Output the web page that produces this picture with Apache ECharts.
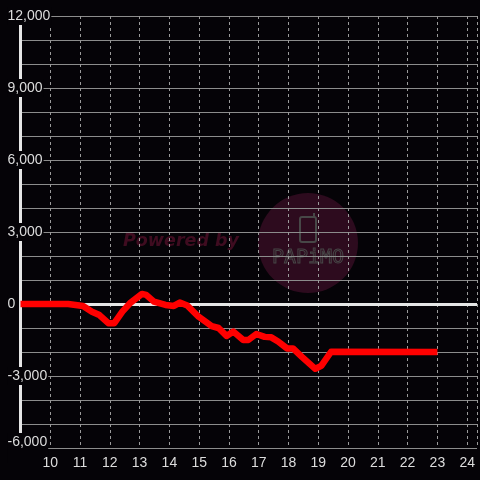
<!DOCTYPE html>
<html>
<head>
<meta charset="utf-8">
<script src="https://cdn.jsdelivr.net/npm/echarts@6/dist/echarts.min.js"></script>
<style>
  html, body { margin: 0; padding: 0; background: #050307; }
  #chart { width: 480px; height: 480px; }
</style>
</head>
<body>
<div id="chart"></div>
<script>
// 数据
const xValues = [9, 10.6, 11.1, 11.4, 11.65, 11.95, 12.15, 12.42, 12.7, 13.08, 13.22, 13.48, 13.87, 14.15, 14.35, 14.6, 14.98, 15.42, 15.65, 15.92, 16.15, 16.48, 16.65, 16.92, 17.2, 17.42, 17.65, 17.95, 18.15, 18.45, 18.9, 19.1, 19.43, 23];
const yValues = [0, 0, -80, -320, -460, -800, -800, -320, 60, 420, 380, 100, -40, -80, 60, -60, -530, -920, -1000, -1330, -1150, -1500, -1500, -1250, -1370, -1390, -1560, -1850, -1850, -2200, -2700, -2580, -1990, -2000];
const yTickLabels = [-6000, -3000, 0, 3000, 6000, 9000, 12000];

const bg = '#050307';
const chart = echarts.init(document.getElementById('chart'));

const option = {
  backgroundColor: bg,
  animation: false,
  grid: { left: 20.5, right: 0, top: 16, bottom: 32 },
  // 水印
  graphic: [
    { type: 'circle', z: -10, shape: { cx: 308, cy: 243, r: 50 }, style: { fill: '#2d0b1e' } },
    { type: 'text', z: -10, x: 123, y: 241, style: {
      text: 'Powered by', fill: '#3f0c20', fontSize: 17.5, fontWeight: 'bold', fontStyle: 'italic',
      fontFamily: 'DejaVu Sans', verticalAlign: 'middle' } },
    { type: 'rect', z: -9, shape: { x: 300, y: 217, width: 16, height: 25, r: 2 },
      style: { fill: 'none', stroke: '#474747', lineWidth: 2 } },
    { type: 'rect', z: -9, shape: { x: 313, y: 213, width: 2, height: 5 },
      style: { fill: '#474747' } },
    { type: 'text', z: -9, x: 308, y: 258, style: {
      text: 'PAPiMO', fill: 'none', stroke: '#474747', lineWidth: 1, fontSize: 20,
      fontFamily: 'DejaVu Sans Mono', align: 'center', verticalAlign: 'middle' } }
  ],
  xAxis: {
    type: 'value',
    min: 9,
    max: 24.33,
    interval: 1,
    axisLine: { show: false },
    axisTick: { show: false },
    axisLabel: {
      color: '#dddddd', fontSize: 14, fontFamily: 'Liberation Sans', margin: 8,
      formatter: v => (v >= 10 && Number.isInteger(v) ? String(v) : '')
    },
    splitLine: { show: true, lineStyle: { color: '#9a9a9a', type: [3, 3], width: 1 } }
  },
  yAxis: {
    type: 'value',
    min: -6000,
    max: 12000,
    interval: 1000,
    axisLine: { show: true, lineStyle: { color: '#e6e6e6', width: 3 } },
    axisTick: { show: false },
    axisLabel: {
      color: '#dddddd', fontSize: 14, fontFamily: 'Liberation Sans',
      align: 'left', margin: 13,
      backgroundColor: bg, padding: [2, 1, 2, 0],
      formatter: v => {
        if (!yTickLabels.includes(v)) return '';
        const s = v.toLocaleString('en-US');
        // 最底部标签略微上移
        return v === -6000 ? '{low|' + s + '}' : s;
      },
      rich: {
        low: { color: '#dddddd', fontSize: 14, fontFamily: 'Liberation Sans', padding: [0, 0, 12, 0] }
      }
    },
    splitLine: { show: true, lineStyle: { color: '#8c8c8c', width: 1 } }
  },
  series: [
    {
      type: 'line',
      data: xValues.map((x, i) => [x, yValues[i]]),
      symbol: 'none',
      lineStyle: { color: '#ff0000', width: 6.5, join: 'round' },
      markLine: {
        silent: true,
        symbol: 'none',
        label: { show: false },
        lineStyle: { color: '#e6e6e6', width: 3, type: 'solid' },
        data: [{ yAxis: 0 }]
      },
      z: 5
    }
  ]
};

chart.setOption(option);
</script>
</body>
</html>
